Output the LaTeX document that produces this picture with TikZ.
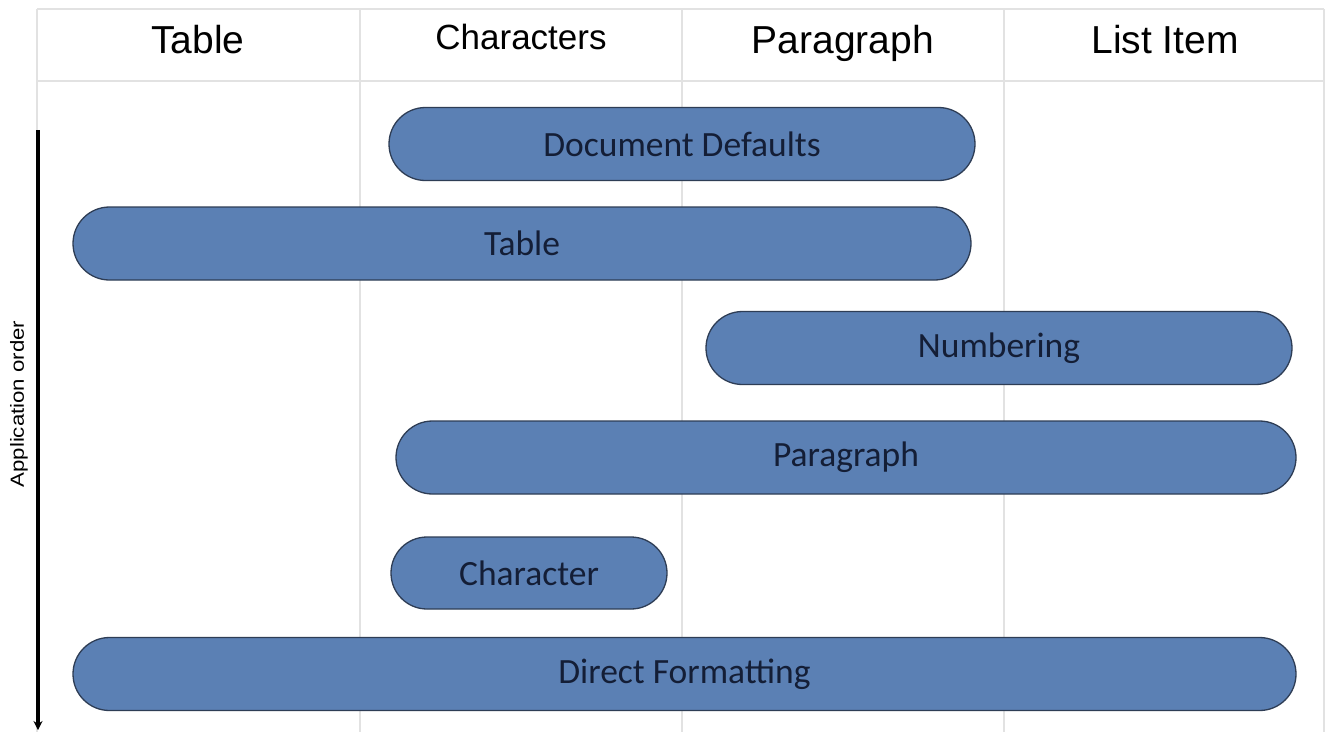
\documentclass[tikz,border=0pt]{standalone}
\usepackage{fontspec}
\setmainfont{Liberation Sans}
\newfontfamily\pillfont{Carlito}
\usetikzlibrary{arrows.meta}
\definecolor{pillfill}{HTML}{5B80B4}
\definecolor{pilledge}{HTML}{2E3D55}
\definecolor{pilltext}{HTML}{141E36}
\definecolor{gridgray}{HTML}{E2E2E2}
\tikzset{
  gridline/.style={draw=gridgray, line width=1.2pt},
  header/.style={font=\fontsize{39}{44}\selectfont, text=black, inner sep=0pt, anchor=base},
  pill/.style={draw=pilledge, fill=pillfill, line width=1.3pt, rounded corners=36.5pt,
    minimum height=73pt, inner sep=0pt, text=pilltext,
    font=\pillfont\fontsize{35.5}{40}\selectfont},
}
\begin{document}
\begin{tikzpicture}[x=1pt,y=-1pt]
\useasboundingbox (0,0) rectangle (1326,732);
\fill[white] (0,0) rectangle (1326,732);
% grid
\draw[gridline] (37,9) -- (1324,9);
\draw[gridline] (37,81) -- (1324,81);
\draw[gridline] (37,9) -- (37,732);
\draw[gridline] (360,9) -- (360,732);
\draw[gridline] (682,9) -- (682,732);
\draw[gridline] (1004,9) -- (1004,732);
\draw[gridline] (1324,9) -- (1324,732);
% headers
\node[header] (hTable) at (198,53) {Table};
\node[header, font=\fontsize{35}{40}\selectfont] (hChar) at (521,49) {Characters};
\node[header] (hPara) at (843,53) {Paragraph};
\node[header] (hList) at (1165,53) {List Item};
% arrow
\coordinate (aTop) at (38,130);
\coordinate (aBot) at (38,730);
\draw[line width=3.4pt, -{Stealth[length=9pt,width=9pt]}] (aTop) -- (aBot);
\node[rotate=90, inner sep=0pt, font=\fontsize{19}{22}\selectfont] (alabel) at (19,404) {\scalebox{1.17}[1]{Application order}};
% pills
\node[pill, minimum width=586pt] (dd) at (682,144) {Document Defaults};
\node[pill, minimum width=898pt] (tb) at (522,243.5) {Table};
\node[pill, minimum width=586pt] (nb) at (999,348) {Numbering};
\node[pill, minimum width=900pt] (pg) at (846,457.5) {Paragraph};
\node[pill, minimum width=276pt, minimum height=72pt, rounded corners=36pt] (ch) at (529,573) {Character};
\node[pill, minimum width=1223pt] (df) at (684.5,674) {Direct Formatting};
\end{tikzpicture}
\end{document}
